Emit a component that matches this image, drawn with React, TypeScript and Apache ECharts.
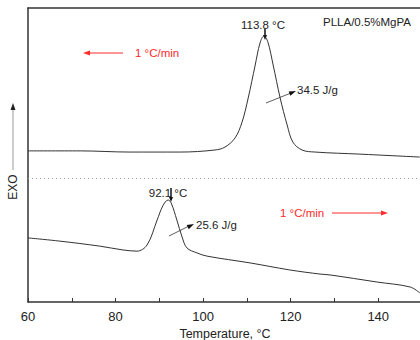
import React, { useEffect, useRef } from "react";
import * as echarts from "echarts";

// Upper curve (cooling, 1 °C/min): [temperature °C, heat flow (a.u.)]
const upperTemps = [60, 71.9, 83.3, 94.7, 102.7, 105.0, 107.3, 108.9, 110.3, 111.9, 113.0, 113.9, 114.8, 116.0, 117.6, 119.2, 120.5, 122.6, 125.6, 135.8, 149.5];
const upperFlow = [51.4, 51.4, 51.0, 51.0, 51.7, 52.7, 55.8, 61.2, 69.4, 80.6, 88.1, 90.5, 88.4, 80.6, 69.4, 60.2, 54.4, 51.7, 51.0, 50.3, 49.3];

// Lower curve (heating, 1 °C/min)
const lowerTemps = [60, 67.3, 76.4, 81.7, 84.9, 87.2, 89.5, 90.8, 92.0, 92.7, 94.0, 95.2, 96.3, 98.6, 100.9, 110.7, 119.8, 126.7, 129.0, 139.7, 147.3, 149.5];
const lowerFlow = [21.8, 20.7, 19.0, 17.7, 17.3, 19.4, 27.9, 32.7, 34.7, 33.7, 27.9, 22.1, 18.4, 16.7, 15.6, 13.3, 10.9, 9.5, 9.2, 6.8, 5.1, 3.1];

const xTicks = [60, 80, 100, 120, 140];
const separatorLevel = 42.2;

const FONT = "'Liberation Sans', Arial, sans-serif";
const RED = "#ff2a2a";

export default function App() {
  const ref = useRef<HTMLDivElement>(null);
  useEffect(() => {
    document.body.style.margin = "0";
    document.body.style.overflow = "hidden";
    const chart = echarts.init(ref.current!, undefined, { renderer: "svg" });
    const upper = upperTemps.map((t, i) => [t, upperFlow[i]]);
    const lower = lowerTemps.map((t, i) => [t, lowerFlow[i]]);
    const arrowHead = (x: number, y: number, ang: number, color: string, len = 7, w = 2.6) => {
      const c = Math.cos(ang), s = Math.sin(ang);
      const bx = x - c * len, by = y - s * len;
      return {
        type: "polygon",
        shape: { points: [[x, y], [bx - s * w, by + c * w], [bx + s * w, by - c * w]] },
        style: { fill: color },
        silent: true,
      };
    };
    chart.setOption({
      animation: false,
      backgroundColor: "#fff",
      grid: { left: 28, right: 0, top: 8, bottom: 38, outerBoundsMode: "none", containLabel: false },
      xAxis: [
        {
          type: "value",
          min: 60,
          max: 150,
          interval: 10,
          position: "bottom",
          name: "Temperature, °C",
          nameLocation: "middle",
          nameGap: 18,
          nameTextStyle: { fontFamily: FONT, fontSize: 12.5, color: "#222" },
          axisLine: { show: true, lineStyle: { color: "#333", width: 1.5 } },
          axisTick: { show: true, inside: true, length: 4, lineStyle: { color: "#333" } },
          axisLabel: {
            fontFamily: FONT,
            fontSize: 13,
            color: "#222",
            margin: 8,
            formatter: (v: number) => (xTicks.includes(v) ? String(v) : ""),
          },
          splitLine: { show: false },
        },
        {
          type: "value",
          min: 60,
          max: 150,
          position: "top",
          axisLine: { show: true, lineStyle: { color: "#333", width: 1.5 } },
          axisTick: { show: false },
          axisLabel: { show: false },
          splitLine: { show: false },
        },
      ],
      yAxis: {
        type: "value",
        min: 0,
        max: 100,
        axisLine: { show: true, lineStyle: { color: "#333", width: 1.5 } },
        axisTick: { show: false },
        axisLabel: { show: false },
        splitLine: { show: false },
      },
      series: [
        {
          type: "line",
          data: upper,
          smooth: 0.35,
          showSymbol: false,
          lineStyle: { color: "#333", width: 1 },
          markLine: {
            silent: true,
            symbol: "none",
            label: { show: false },
            lineStyle: { color: "#999", type: [1, 3], width: 1 },
            data: [{ yAxis: separatorLevel }],
          },
        },
        {
          type: "line",
          data: lower,
          smooth: 0.35,
          showSymbol: false,
          lineStyle: { color: "#333", width: 1 },
        },
      ],
      graphic: [
        // top-left rate arrow
        { type: "line", shape: { x1: 123, y1: 53, x2: 88, y2: 53 }, style: { stroke: RED, lineWidth: 1 } },
        arrowHead(83, 53, Math.PI, RED),
        { type: "text", x: 135, y: 53, style: { text: "1 °C/min", fill: RED, font: `11.5px ${FONT}`, verticalAlign: "middle" } },
        // bottom-right rate arrow
        { type: "text", x: 280, y: 213, style: { text: "1 °C/min", fill: RED, font: `11.5px ${FONT}`, verticalAlign: "middle" } },
        { type: "line", shape: { x1: 332, y1: 213, x2: 383, y2: 213 }, style: { stroke: RED, lineWidth: 1 } },
        arrowHead(388, 213, 0, RED),
        // sample label
        { type: "text", x: 323, y: 22, style: { text: "PLLA/0.5%MgPA", fill: "#222", font: `11.5px ${FONT}`, verticalAlign: "middle" } },
        // upper peak
        { type: "text", x: 263, y: 25, style: { text: "113.8 °C", fill: "#222", font: `11.5px ${FONT}`, align: "center", verticalAlign: "middle" } },
        { type: "line", shape: { x1: 265, y1: 29, x2: 265, y2: 36 }, style: { stroke: "#111", lineWidth: 1.5 } },
        arrowHead(265, 40, Math.PI / 2, "#111", 5, 2),
        // upper enthalpy
        { type: "line", shape: { x1: 266, y1: 103, x2: 291, y2: 93 }, style: { stroke: "#333", lineWidth: 0.8 } },
        arrowHead(296, 91, Math.atan2(-10, 25), "#111", 7, 2.3),
        { type: "text", x: 297, y: 90, style: { text: "34.5 J/g", fill: "#222", font: `11.5px ${FONT}`, verticalAlign: "middle" } },
        // lower peak
        { type: "text", x: 168, y: 193, style: { text: "92.1 °C", fill: "#222", font: `11.5px ${FONT}`, align: "center", verticalAlign: "middle" } },
        { type: "line", shape: { x1: 171, y1: 188, x2: 171, y2: 197 }, style: { stroke: "#111", lineWidth: 1.5 } },
        arrowHead(171, 202, Math.PI / 2, "#111", 5, 2),
        // lower enthalpy
        { type: "line", shape: { x1: 169, y1: 236, x2: 189, y2: 226 }, style: { stroke: "#333", lineWidth: 0.8 } },
        arrowHead(194, 224, Math.atan2(-10, 20), "#111", 7, 2.3),
        { type: "text", x: 196, y: 225, style: { text: "25.6 J/g", fill: "#222", font: `11.5px ${FONT}`, verticalAlign: "middle" } },
        // EXO arrow
        { type: "line", shape: { x1: 13, y1: 170, x2: 13, y2: 108 }, style: { stroke: "#999", lineWidth: 1 } },
        arrowHead(13, 103, -Math.PI / 2, "#222", 7, 2.5),
        {
          type: "text",
          x: 13,
          y: 187,
          rotation: Math.PI / 2,
          style: { text: "EXO", fill: "#222", font: `12px ${FONT}`, align: "center", verticalAlign: "middle" },
        },
      ],
    });
    return () => chart.dispose();
  }, []);
  return <div ref={ref} style={{ position: "fixed", left: 0, top: 0, width: 422, height: 340 }} />;
}
